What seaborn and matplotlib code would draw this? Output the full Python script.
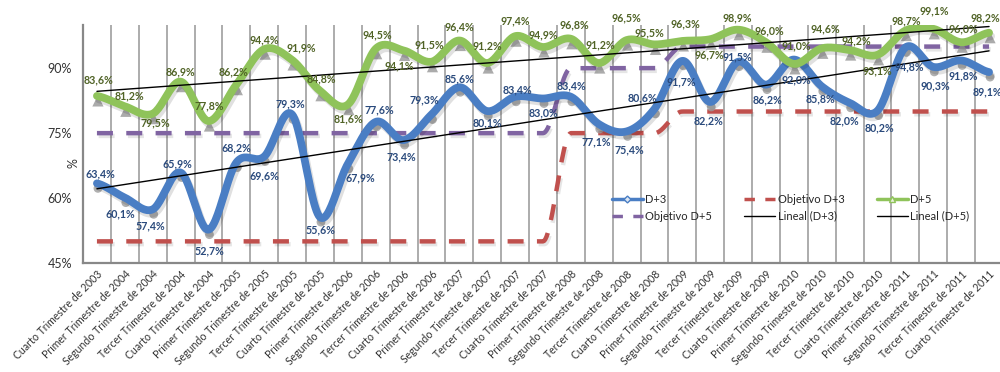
import numpy as np
import pandas as pd
import seaborn as sns
import matplotlib
matplotlib.use("Agg")
import matplotlib.pyplot as plt
from matplotlib import patheffects as pe
from matplotlib.transforms import offset_copy
from matplotlib.lines import Line2D
from matplotlib.ticker import FuncFormatter

# ---- data ---------------------------------------------------------------
trimestres = [
    "Cuarto Trimestre de 2003",
    "Primer Trimestre de 2004", "Segundo Trimestre de 2004", "Tercer Trimestre de 2004", "Cuarto Trimestre de 2004",
    "Primer Trimestre de 2005", "Segundo Trimestre de 2005", "Tercer Trimestre de 2005", "Cuarto Trimestre de 2005",
    "Primer Trimestre de 2006", "Segundo Trimestre de 2006", "Tercer Trimestre de 2006", "Cuarto Trimestre de 2006",
    "Primer Trimestre de 2007", "Segundo Timestre de 2007", "Tercer Trimestre de 2007", "Cuarto Trimestre de 2007",
    "Primer Trimestre de 2008", "Segundo Trimestre de 2008", "Tercer Trimestre de 2008", "Cuarto Trimestre de 2008",
    "Primer Trimestre de 2009", "Segundo Trimestre de 2009", "Tercer Trimestre de 2009", "Cuarto Trimestre de 2009",
    "Primer Trimestre de 2010", "Segundo Trimestre de 2010", "Tercer Trimestre de 2010", "Cuarto Trimestre de 2010",
    "Primer Trimestre de 2011", "Segundo Trimestre de 2011", "Tercer Trimestre de 2011", "Cuarto Trimestre de 2011",
]

d3 = [63.4, 60.1, 57.4, 65.9, 52.7, 68.2, 69.6, 79.3, 55.6, 67.9, 77.6, 73.4, 79.3,
      85.6, 80.1, 83.4, 83.0, 83.4, 77.1, 75.4, 80.6, 91.7, 82.2, 91.5, 86.2, 92.0,
      85.8, 82.0, 80.2, 94.8, 90.3, 91.8, 89.1]

d5 = [83.6, 81.2, 79.5, 86.9, 77.8, 86.2, 94.4, 91.9, 84.8, 81.6, 94.5, 94.1, 91.5,
      96.4, 91.2, 97.4, 94.9, 96.8, 91.2, 96.5, 95.5, 96.3, 96.7, 98.9, 96.0, 91.0,
      94.6, 94.2, 93.1, 98.7, 99.1, 96.0, 98.2]

objetivo_d3 = [50] * 17 + [75] * 4 + [80] * 12
objetivo_d5 = [75] * 17 + [90] * 4 + [95] * 12

# label placement (pixel offsets from each point)
off_d3 = [(3, 10), (-5, -16), (-2, -17), (-3, 9), (1, -21), (0, 15), (0, -19), (-2, 11),
          (1, -13), (12, -14), (4, 12), (-2, -17), (-7, 15), (0, 8), (0, -12), (2, 7),
          (0, -14), (1, 11), (-3, -18), (3, -18), (-12, 11), (-1, -21), (-2, -19), (-1, 5),
          (1, -15), (2, -20), (-1, -12), (-5, -18), (2, -17), (4, -19), (2, -19), (2, -15),
          (-2, -20)]
off_d5 = [(2, 16), (5, 10), (3, -9), (0, 10), (1, 15), (-3, 13), (0, 9), (9, 12),
          (1, 12), (1, -14), (2, 14), (-4, -15), (-2, 17), (0, 14), (0, 17), (0, 15),
          (0, 12), (3, 14), (2, 18), (0, 22), (-5, 12), (3, 17), (-1, -16), (-1, 12),
          (3, 11), (2, 18), (4, 19), (7, 9), (0, -16), (1, 10), (1, 18), (2, 13),
          (-4, 15)]

# ---- styling ------------------------------------------------------------
C_D3 = "#4A7EC4"
C_D5 = "#8FC35A"
C_OBJ3 = "#C0504D"
C_OBJ5 = "#8064A2"
C_LBL3 = "#2A4A7C"
C_LBL5 = "#506326"
C_GRID = "#A6A6A6"

sns.set_theme(style="white")
plt.rcParams["font.family"] = ["Lato", "DejaVu Sans"]


def _hermite(y, m, n):
    t = np.linspace(0, 1, n, endpoint=False)
    h00 = 2 * t**3 - 3 * t**2 + 1
    h10 = t**3 - 2 * t**2 + t
    h01 = -2 * t**3 + 3 * t**2
    h11 = t**3 - t**2
    xs, ys = [], []
    for i in range(len(y) - 1):
        xs.append(i + t)
        ys.append(h00 * y[i] + h10 * m[i] + h01 * y[i + 1] + h11 * m[i + 1])
    xs.append([len(y) - 1])
    ys.append([y[-1]])
    return pd.DataFrame({"x": np.concatenate(xs), "y": np.concatenate(ys)})


def smooth(values, n=24):
    """Catmull-Rom path through the points."""
    y = np.asarray(values, float)
    p = np.concatenate([[y[0]], y, [y[-1]]])
    m = (p[2:] - p[:-2]) / 2
    return _hermite(y, m, n)


def smooth_steps(values, n=24):
    """Monotone cubic path: flat runs stay flat, steps get a soft S-curve."""
    y = np.asarray(values, float)
    d = np.diff(y)
    m = np.zeros_like(y)
    for i in range(1, len(y) - 1):
        if d[i - 1] * d[i] > 0:
            m[i] = 2 * d[i - 1] * d[i] / (d[i - 1] + d[i])
    return _hermite(y, m, n)


x = np.arange(len(trimestres))

fig = plt.figure(figsize=(10, 3.72), dpi=100)
ax = fig.add_axes([0.083, 0.293, 0.92, 0.64])

# vertical grid at category boundaries
for b in np.arange(0.5, len(trimestres) - 0.5 + 1e-9, 1):
    ax.axvline(b, color=C_GRID, lw=1.3, zorder=0)

shadow = [pe.SimpleLineShadow(offset=(1.5, -2.5), shadow_color="black", alpha=0.12), pe.Normal()]
light_shadow = [pe.SimpleLineShadow(offset=(1.2, -2), shadow_color="black", alpha=0.10), pe.Normal()]

# target lines
for vals, col in [(objetivo_d3, C_OBJ3), (objetivo_d5, C_OBJ5)]:
    s = smooth_steps(vals)
    sns.lineplot(data=s, x="x", y="y", ax=ax, color=col, lw=3.2, sort=False,
                 estimator=None, zorder=2)
    line = ax.lines[-1]
    line.set_dashes((3.6, 3.0))
    line.set_dash_capstyle("butt")
    line.set_path_effects(light_shadow)

# marker shadows under the main series
sh_tr = offset_copy(ax.transData, fig=fig, x=1, y=-5, units="dots")
sns.scatterplot(x=x, y=d5, ax=ax, marker="^", s=65, color="#9C9C9C", edgecolor="none",
                alpha=0.85, zorder=3, transform=sh_tr)
sns.scatterplot(x=x, y=d3, ax=ax, marker="o", s=40, color="#9C9C9C", edgecolor="none",
                alpha=0.8, zorder=3, transform=sh_tr)

# main series (smoothed)
for vals, col in [(d3, C_D3), (d5, C_D5)]:
    s = smooth(vals)
    sns.lineplot(data=s, x="x", y="y", ax=ax, color=col, lw=5.6, sort=False,
                 estimator=None, zorder=4)
    ax.lines[-1].set_path_effects(shadow)
    ax.lines[-1].set_solid_capstyle("round")

# linear trends
for vals in (d3, d5):
    k, c = np.polyfit(x, vals, 1)
    trend = pd.DataFrame({"x": [x[0], x[-1]], "y": [c + k * x[0], c + k * x[-1]]})
    sns.lineplot(data=trend, x="x", y="y", ax=ax, color="black", lw=1.0, zorder=5)

# data labels
def fmt(v):
    return f"{v:.1f}".replace(".", ",") + "%"

for xi, v, (dx, dy) in zip(x, d3, off_d3):
    ax.annotate(fmt(v), (xi, v), xytext=(dx, dy), textcoords="offset pixels",
                ha="center", va="center", fontsize=7.7, fontweight="bold",
                color=C_LBL3, zorder=6)
for xi, v, (dx, dy) in zip(x, d5, off_d5):
    ax.annotate(fmt(v), (xi, v), xytext=(dx, dy), textcoords="offset pixels",
                ha="center", va="center", fontsize=7.7, fontweight="bold",
                color=C_LBL5, zorder=6)

# axes
ax.set_xlim(-0.5, len(trimestres) - 0.5)
ax.set_ylim(45, 100)
ax.set_yticks([45, 60, 75, 90])
ax.yaxis.set_major_formatter(FuncFormatter(lambda v, _: f"{v:.0f}%"))
ax.set_xticks(x)
ax.set_xticklabels(trimestres, rotation=45, ha="right", rotation_mode="anchor",
                   fontsize=7.6, color="#333333")
ax.set_xticks(np.arange(-0.5, len(trimestres)), minor=True)
ax.tick_params(axis="x", which="major", length=0, pad=4)
ax.tick_params(axis="x", which="minor", length=5, color="#888888", width=1.2, direction="out")
ax.tick_params(axis="y", length=5, color="#888888", width=1.2, direction="out",
               labelsize=9, labelcolor="#333333", pad=3)
ax.set_xlabel("")
ax.set_ylabel("%", fontsize=9, color="#333333")
ax.yaxis.set_label_coords(-0.004, 0.42)
for side in ("top", "right"):
    ax.spines[side].set_visible(False)
for side in ("left", "bottom"):
    ax.spines[side].set_color("#888888")
    ax.spines[side].set_linewidth(1.6)

handles = [
    Line2D([], [], color=C_D3, lw=2.5, marker="D", markersize=3.5,
           markerfacecolor="#DCE6F2", markeredgecolor=C_D3),
    Line2D([], [], color=C_OBJ5, lw=2.5, dashes=(3, 3)),
    Line2D([], [], color=C_OBJ3, lw=2.5, dashes=(3, 3)),
    Line2D([], [], color="black", lw=1.0),
    Line2D([], [], color=C_D5, lw=2.5, marker="^", markersize=5,
           markerfacecolor="#EBF1DE", markeredgecolor=C_D5),
    Line2D([], [], color="black", lw=1.0),
]
labels = ["D+3", "Objetivo D+5", "Objetivo D+3", "Lineal (D+3)", "D+5", "Lineal (D+5)"]
ax.legend(handles, labels, ncol=3, frameon=False, loc="upper left",
          bbox_to_anchor=(0.57, 0.31), fontsize=8, handlelength=2.8,
          handletextpad=0.2, columnspacing=2.9, labelspacing=0.55, borderaxespad=0)

fig.savefig("out.png", dpi=100)
